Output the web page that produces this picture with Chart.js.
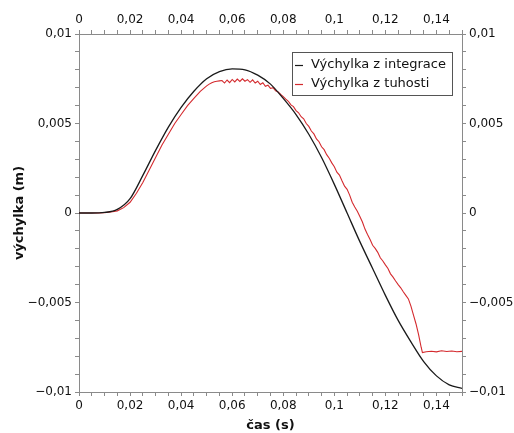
<!DOCTYPE html>
<html>
<head>
<meta charset="utf-8">
<script src="https://cdn.jsdelivr.net/npm/chart.js@4.4.0/dist/chart.umd.min.js"></script>
<style>
  html, body { margin: 0; padding: 0; background: #fff; }
  #wrap { width: 514px; height: 433px; }
</style>
</head>
<body>
<div id="wrap"><canvas id="chart" width="514" height="433"></canvas></div>
<script>
// black curve: výchylka z integrace
const intTimes = [0, 0.005, 0.01, 0.015, 0.02, 0.025, 0.03, 0.035, 0.04, 0.045, 0.05,
  0.055, 0.06, 0.065, 0.07, 0.075, 0.08, 0.085, 0.09, 0.095, 0.1,
  0.105, 0.11, 0.115, 0.12, 0.125, 0.13, 0.135, 0.14, 0.145, 0.15];
const intValues = [0, 0, 0.00003, 0.0002, 0.0008, 0.0021, 0.0035, 0.0048, 0.0059, 0.0068, 0.0075,
  0.0079, 0.00805, 0.008, 0.0077, 0.0072, 0.0064, 0.0055, 0.0044, 0.0031, 0.0016,
  0.0, -0.0016, -0.0031, -0.0046, -0.006, -0.0072, -0.0083, -0.0091, -0.0096, -0.0098];

// red curve: výchylka z tuhosti
const stiffTimes = [0, 0.0025, 0.005, 0.0075, 0.01, 0.0125, 0.015, 0.0175, 0.02, 0.0225,
  0.025, 0.0275, 0.03, 0.0325, 0.035, 0.0375, 0.04, 0.0425, 0.045, 0.0475, 0.05,
  0.051, 0.052, 0.053, 0.054, 0.055, 0.056, 0.057, 0.058, 0.059, 0.06,
  0.061, 0.062, 0.063, 0.064, 0.065, 0.066, 0.067, 0.068, 0.069, 0.07,
  0.071, 0.072, 0.073, 0.074, 0.075, 0.076, 0.077, 0.078, 0.079, 0.08,
  0.081, 0.082, 0.083, 0.084, 0.085, 0.086, 0.087, 0.088, 0.089, 0.09,
  0.091, 0.092, 0.093, 0.094, 0.095, 0.096, 0.097, 0.098, 0.099, 0.1,
  0.101, 0.102, 0.103, 0.104, 0.105, 0.106, 0.107, 0.108, 0.109, 0.11,
  0.111, 0.112, 0.113, 0.114, 0.115, 0.116, 0.117, 0.118, 0.119, 0.12,
  0.121, 0.122, 0.123, 0.124, 0.125, 0.126, 0.127, 0.128, 0.129, 0.13,
  0.131, 0.132, 0.133, 0.134, 0.1345, 0.136, 0.138, 0.14, 0.142, 0.144, 0.146, 0.148, 0.15];
const stiffValues = [0, 0, 0, 0, 0.00002, 0.00006, 0.00012, 0.0003, 0.0006, 0.0011,
  0.0017, 0.0024, 0.0031, 0.0038, 0.0044, 0.005, 0.0055, 0.006, 0.0064, 0.0068, 0.0071,
  0.0072, 0.00728, 0.00733, 0.00736, 0.00738, 0.0074, 0.00726, 0.00743, 0.00728, 0.00746,
  0.00732, 0.00748, 0.00735, 0.0075, 0.00736, 0.00745, 0.0073, 0.00744, 0.00726, 0.00736,
  0.00718, 0.00728, 0.00708, 0.00714, 0.00696, 0.007, 0.00682, 0.00676, 0.00662, 0.0065,
  0.00636, 0.00624, 0.00604, 0.00594, 0.00572, 0.0056, 0.00538, 0.00526, 0.005, 0.00484,
  0.00458, 0.00442, 0.00414, 0.00398, 0.0037, 0.00354, 0.00326, 0.00306, 0.0028, 0.00258,
  0.00228, 0.00212, 0.0018, 0.0015, 0.00132, 0.001, 0.0006, 0.00034, 0.0001, -0.0002,
  -0.0005, -0.0009, -0.0012, -0.00148, -0.0018, -0.00198, -0.0022, -0.0025, -0.00268, -0.0029,
  -0.0031, -0.0034, -0.00358, -0.0038, -0.004, -0.00418, -0.0044, -0.0046, -0.0048, -0.0052,
  -0.0057, -0.0062, -0.0068, -0.0075, -0.0078, -0.00775, -0.00772, -0.00776, -0.0077, -0.00774, -0.00771, -0.00775, -0.00773];

const seriesNames = ['Výchylka z integrace', 'Výchylka z tuhosti'];
const seriesColors = ['#1a1a1a', '#d42a2e'];

const toPoints = (xs, ys) => xs.map((x, i) => ({ x: x, y: ys[i] }));

const fmtNum = (v) => (v < 0 ? '\u2212' : '') + String(Math.abs(v)).replace('.', ',');

const xLabel = (value) => {
  const k = Math.round(value * 1000);
  return k % 20 === 0 ? fmtNum(k / 1000) : '';
};
const yLabel = (value) => {
  const k = Math.round(value * 10000);
  return k % 50 === 0 ? fmtNum(k / 10000) : '';
};

const axisColor = '#8a8a8a';
const tickFont = { family: 'DejaVu Sans', size: 12 };

function xScale(position, height) {
  return {
    type: 'linear',
    position: position,
    display: true,
    min: 0,
    max: 0.15,
    border: { color: axisColor, width: 1 },
    grid: { drawOnChartArea: false, color: axisColor, tickLength: 4 },
    ticks: {
      stepSize: 0.005, autoSkip: false, maxTicksLimit: 100, maxRotation: 0,
      padding: 3, color: '#111', font: tickFont, callback: xLabel
    },
    afterFit: (s) => { s.height = height; }
  };
}
function yScale(position, width) {
  return {
    type: 'linear',
    position: position,
    display: true,
    min: -0.01,
    max: 0.01,
    border: { color: axisColor, width: 1 },
    grid: { drawOnChartArea: false, color: axisColor, tickLength: 4 },
    ticks: {
      stepSize: 0.001, autoSkip: false, maxTicksLimit: 100,
      padding: 3, color: '#111', font: tickFont, callback: yLabel
    },
    afterFit: (s) => { s.width = width; }
  };
}

const scales = {
  x: xScale('bottom', 41),
  xTop: xScale('top', 34),
  y: yScale('left', 79),
  yRight: yScale('right', 52)
};
scales.x.title = { display: true, text: 'čas (s)', color: '#111',
  font: { family: 'DejaVu Sans', size: 13, weight: 'bold' }, padding: { top: 0, bottom: 0 } };
scales.y.title = { display: true, text: 'výchylka (m)', color: '#111',
  font: { family: 'DejaVu Sans', size: 13, weight: 'bold' }, padding: { top: 12, bottom: 0 } };

// boxed legend inside the plot, top right
const boxLegend = {
  id: 'boxLegend',
  afterDraw(chart) {
    const c = chart.ctx;
    const x0 = 292, y0 = 52, w = 160, h = 43;
    c.save();
    c.fillStyle = '#fff';
    c.fillRect(x0, y0, w, h);
    c.strokeStyle = '#555';
    c.lineWidth = 1;
    c.strokeRect(x0 + 0.5, y0 + 0.5, w, h);
    c.font = '13px "DejaVu Sans"';
    c.textBaseline = 'middle';
    chart.data.datasets.forEach((ds, i) => {
      const yy = y0 + 13 + i * 19;
      c.strokeStyle = ds.borderColor;
      c.lineWidth = 1.2;
      c.beginPath();
      c.moveTo(x0 + 3, yy + 0.5);
      c.lineTo(x0 + 11, yy + 0.5);
      c.stroke();
      c.fillStyle = '#111';
      c.fillText(ds.label, x0 + 19, yy);
    });
    c.restore();
  }
};

new Chart(document.getElementById('chart'), {
  type: 'line',
  data: {
    datasets: [
      {
        label: seriesNames[0],
        data: toPoints(intTimes, intValues),
        borderColor: seriesColors[0],
        borderWidth: 1.3,
        pointRadius: 0,
        cubicInterpolationMode: 'monotone',
        xAxisID: 'x', yAxisID: 'y'
      },
      {
        label: seriesNames[1],
        data: toPoints(stiffTimes, stiffValues),
        borderColor: seriesColors[1],
        borderWidth: 1.1,
        pointRadius: 0,
        tension: 0,
        xAxisID: 'x', yAxisID: 'y'
      }
    ]
  },
  options: {
    responsive: false,
    animation: false,
    layout: { padding: 0 },
    plugins: { legend: { display: false }, tooltip: { enabled: false } },
    scales: scales
  },
  plugins: [boxLegend]
});
</script>
</body>
</html>
